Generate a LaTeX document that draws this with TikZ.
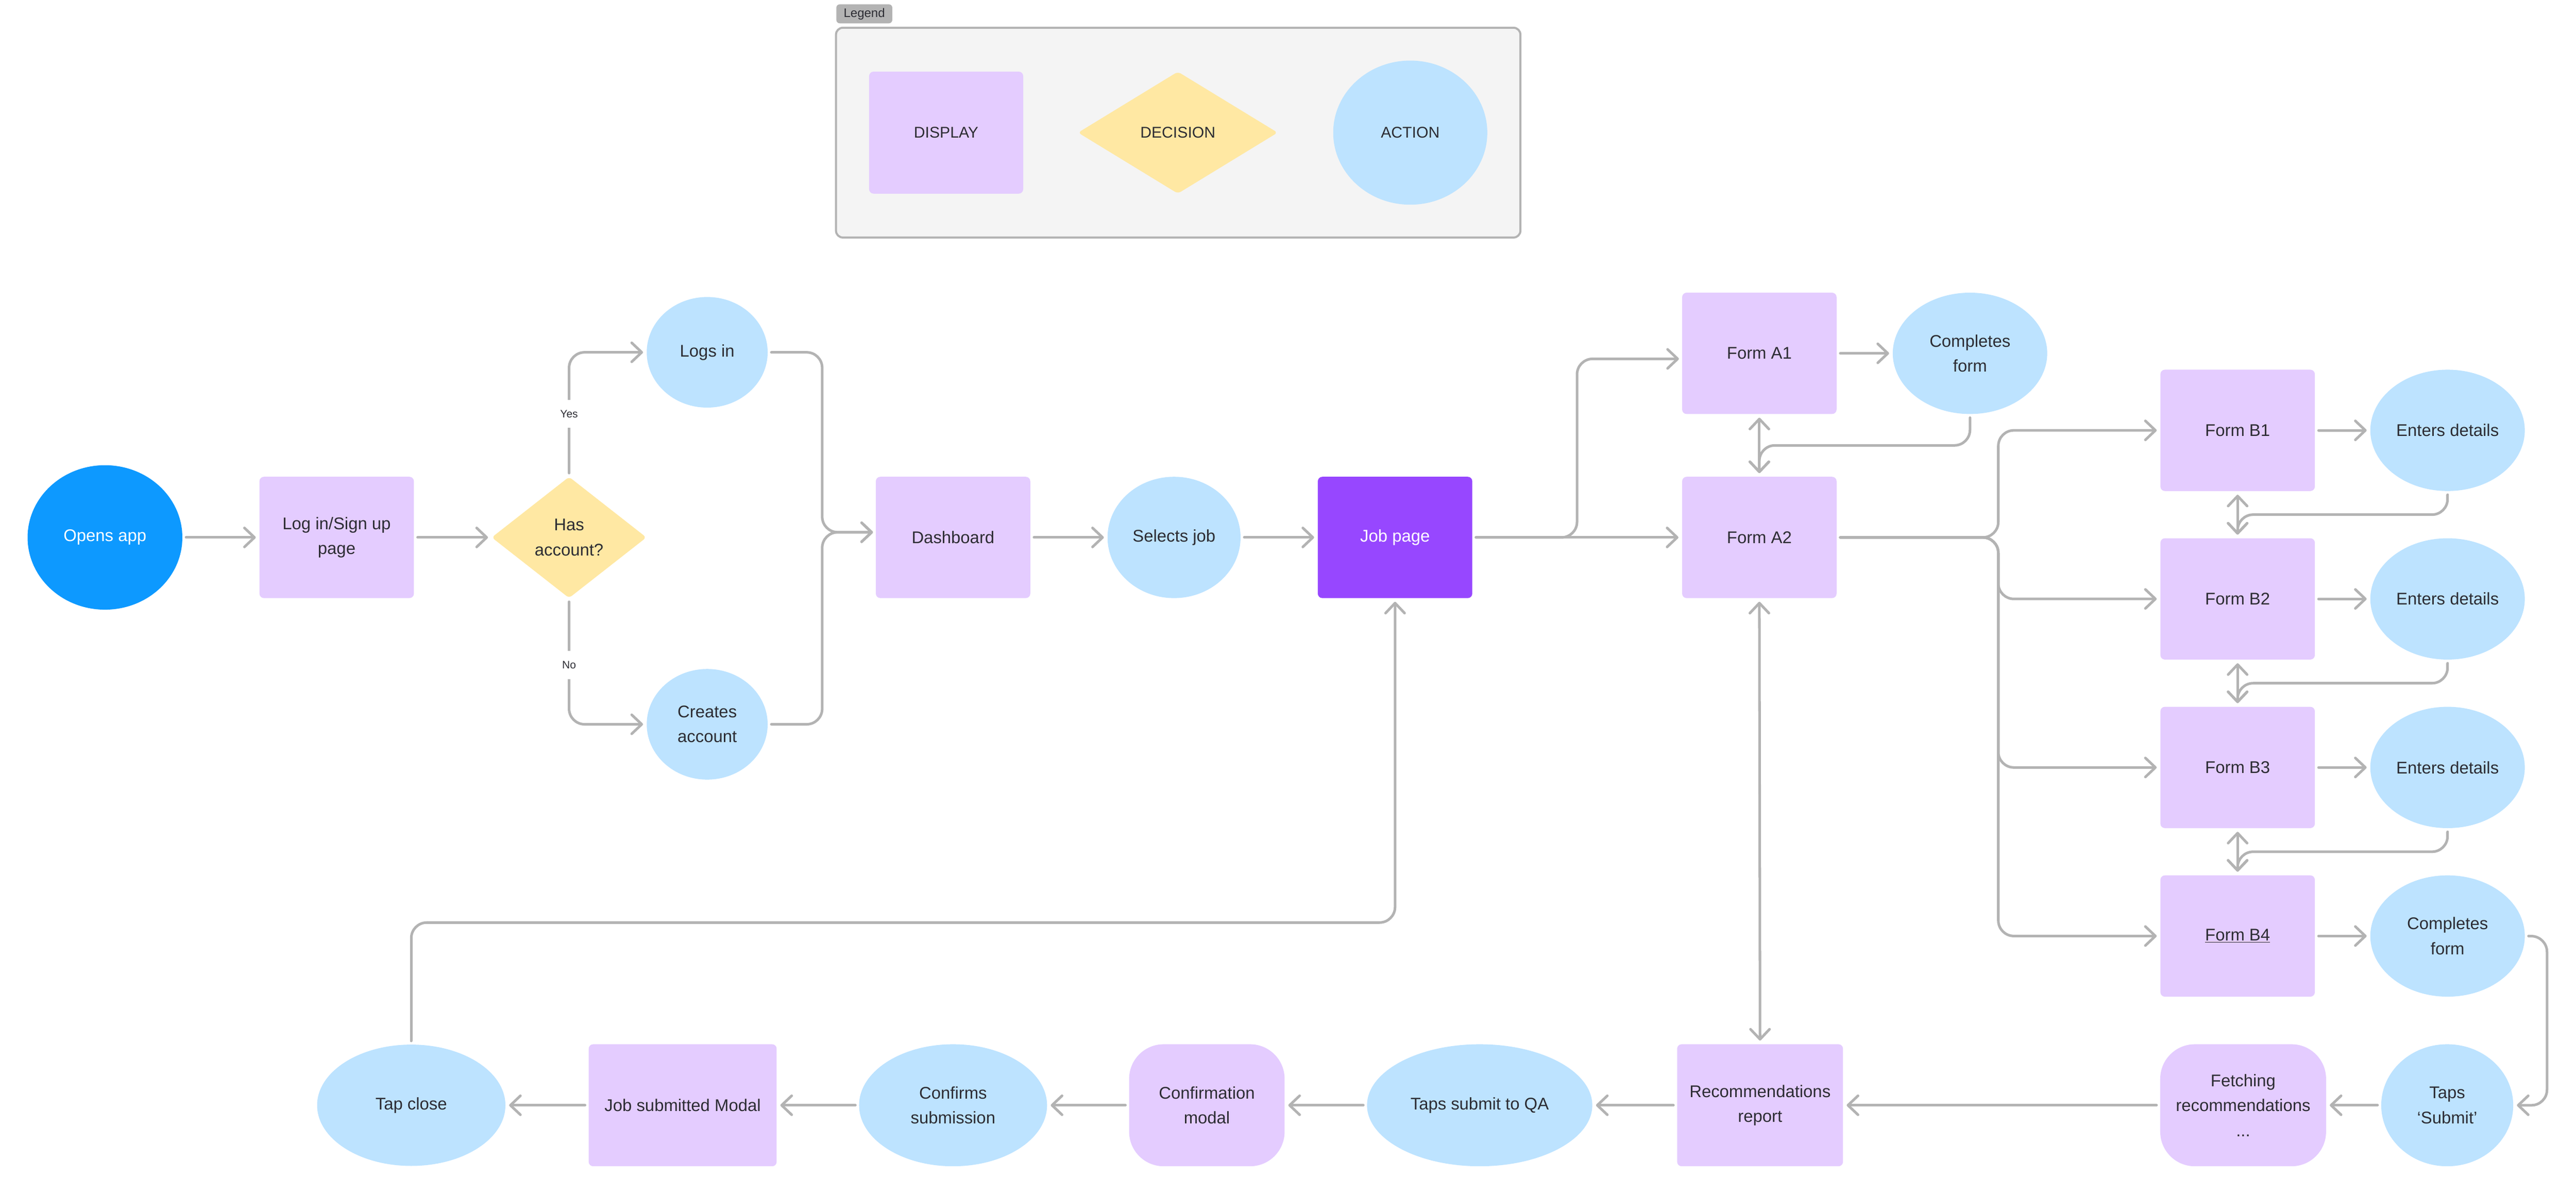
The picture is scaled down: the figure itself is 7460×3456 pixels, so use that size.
\documentclass[tikz,border=0pt]{standalone}
\usepackage{fontspec}
\setmainfont{Liberation Sans}
\usetikzlibrary{arrows.meta,shapes.geometric,calc}

\definecolor{dispc}{HTML}{E4CCFF}
\definecolor{actc}{HTML}{BDE3FF}
\definecolor{decc}{HTML}{FFE8A3}
\definecolor{jobc}{HTML}{9747FF}
\definecolor{openc}{HTML}{0D99FF}
\definecolor{linec}{HTML}{B3B3B3}
\definecolor{txtc}{HTML}{2C2C33}
\definecolor{legbg}{HTML}{F4F4F4}

\newcommand\myfmain{\fontsize{13.94pt}{20.5pt}\selectfont}
\newcommand\myfleg{\fontsize{12.8pt}{18pt}\selectfont}
\newcommand\myftag{\fontsize{10.2pt}{12pt}\selectfont}
\newcommand\myflbl{\fontsize{8.9pt}{10pt}\selectfont}

\tikzset{
  mytip/.tip={Straight Barb[length=0.29cm,width=0.55cm,round]},
  base/.style={inner sep=0pt, align=center, text=txtc, font=\myfmain},
  disp/.style={base, rectangle, fill=dispc, rounded corners=0.13cm,
    minimum width=4.47cm, minimum height=3.51cm},
  modal/.style={base, rectangle, fill=dispc, rounded corners=1cm,
    minimum height=3.53cm},
  act/.style={base, ellipse, fill=actc},
  dec/.style={base, diamond, fill=decc, rounded corners=0.1cm},
  conn/.style={draw=linec, line width=0.075cm, line cap=round, line join=round,
    rounded corners=0.45cm, -mytip, shorten <=0.1cm, shorten >=0.1cm},
  conn2/.style={conn, mytip-mytip},
  lbl/.style={fill=white, text=txtc, font=\myflbl, inner xsep=0.08cm, inner ysep=0.3cm},
}

\begin{document}
\begin{tikzpicture}[x=0.01cm, y=-0.01cm]
\fill[white] (0,0) rectangle (7460,3456);
\useasboundingbox (0,0) rectangle (7460,3456);

% ---------- Legend ----------
\node[fill=linec, rounded corners=0.1cm, minimum width=1.62cm, minimum height=0.55cm,
      inner sep=0pt, text=txtc, font=\myftag] (legtag) at (2503,40) {Legend};
\node[fill=legbg, draw=linec, line width=0.06cm, rounded corners=0.2cm,
      minimum width=19.81cm, minimum height=6.07cm, inner sep=0pt] (legbox) at (3412,384) {};
\node[disp, font=\myfleg, minimum width=4.46cm, minimum height=3.53cm] (legdisp) at (2740,384) {DISPLAY};
\node[dec, font=\myfleg, minimum width=5.78cm, minimum height=3.53cm, shape aspect=1.64] (legdec) at (3411,384) {DECISION};
\node[act, font=\myfleg, minimum width=4.46cm, minimum height=4.17cm] (legact) at (4084,384) {ACTION};

% ---------- Top flow ----------
\node[base, ellipse, fill=openc, text=white, minimum width=4.48cm, minimum height=4.18cm] (opens) at (304,1556) {Opens app};
\node[disp] (login) at (975,1556) {Log in/Sign up\\page};
\node[dec, minimum width=4.48cm, minimum height=3.51cm, shape aspect=1.28] (hasacc) at (1648,1556) {Has\\account?};
\node[act, minimum width=3.50cm, minimum height=3.20cm] (logsin) at (2048,1020) {Logs in};
\node[act, minimum width=3.50cm, minimum height=3.20cm] (creates) at (2048,2097) {Creates\\account};
\node[disp] (dash) at (2760,1556) {Dashboard};
\node[act, minimum width=3.85cm, minimum height=3.51cm] (selects) at (3400,1556) {Selects job};
\node[disp, fill=jobc, text=white] (jobpage) at (4040,1556) {Job page};

\node[disp] (formA1) at (5095,1023) {Form A1};
\node[act, minimum width=4.47cm, minimum height=3.51cm] (complA1) at (5705,1023) {Completes\\form};
\node[disp] (formA2) at (5095,1556) {Form A2};

\node[disp] (formB1) at (6480,1246) {Form B1};
\node[disp] (formB2) at (6480,1734) {Form B2};
\node[disp] (formB3) at (6480,2222) {Form B3};
\node[disp] (formB4) at (6480,2710) {\underline{Form B4}};
\node[act, minimum width=4.47cm, minimum height=3.51cm] (ent1) at (7088,1246) {Enters details};
\node[act, minimum width=4.47cm, minimum height=3.51cm] (ent2) at (7088,1734) {Enters details};
\node[act, minimum width=4.47cm, minimum height=3.51cm] (ent3) at (7088,2222) {Enters details};
\node[act, minimum width=4.47cm, minimum height=3.51cm] (complB4) at (7088,2710) {Completes\\form};

% ---------- Bottom row ----------
\node[act, minimum width=3.82cm, minimum height=3.53cm] (tapsSub) at (7087,3200) {Taps\\‘Submit’};
\node[modal, minimum width=4.80cm] (fetch) at (6496,3200) {Fetching\\recommendations\\...};
\node[disp, minimum width=4.80cm, minimum height=3.53cm] (recRep) at (5097,3200) {Recommendations\\report};
\node[act, minimum width=6.52cm, minimum height=3.53cm] (tapsQA) at (4285,3200) {Taps submit to QA};
\node[modal, minimum width=4.50cm] (confModal) at (3495,3200) {Confirmation\\modal};
\node[act, minimum width=5.44cm, minimum height=3.53cm] (confirms) at (2760,3200) {Confirms\\submission};
\node[disp, minimum width=5.44cm, minimum height=3.53cm] (jobSub) at (1977,3200) {Job submitted Modal};
\node[act, minimum width=5.45cm, minimum height=3.51cm] (tapClose) at (1191,3200) {Tap close};

% ---------- helper coordinates ----------
\coordinate (mx) at (2381,1541);
\coordinate (dashin) at (2538,1541);
\coordinate (jx) at (4567,1556);
\coordinate (a1in) at (4872,1039);
\coordinate (bx) at (5787,1556);
\coordinate (cx) at (7376,2711);
\coordinate (ret) at (4040,2671);
\coordinate (mA) at ($(formA1.south)!0.5!(formA2.north)$);
\coordinate (mB1) at ($(formB1.south)!0.5!(formB2.north)$);
\coordinate (mB2) at ($(formB2.south)!0.5!(formB3.north)$);
\coordinate (mB3) at ($(formB3.south)!0.5!(formB4.north)$);

% ---------- connectors ----------
\draw[conn] (opens) -- (login);
\draw[conn] (login) -- (hasacc);
\draw[conn] (hasacc.north) |- (logsin.west);
\draw[conn] (hasacc.south) |- (creates.west);
\node[lbl] (yes) at (1648,1198) {Yes};
\node[lbl] (no) at (1648,1925) {No};
\draw[conn] (logsin.east) -| (mx) -- (dashin);
\draw[conn] (creates.east) -| (mx) -- (dashin);
\draw[conn] (dash) -- (selects);
\draw[conn] (selects) -- (jobpage);
\draw[conn] (jobpage.east) -- (jx) |- (a1in);
\draw[conn] (jobpage) -- (formA2);
\draw[conn] (formA1) -- (complA1);
\draw[conn2] (formA1.south) -- (formA2.north);
\draw[conn] (complA1.south) |- (mA) -- (formA2.north);

\draw[conn] (formA2.east) -- (bx) |- (formB1.west);
\draw[conn] (formA2.east) -- (bx) |- (formB2.west);
\draw[conn] (formA2.east) -- (bx) |- (formB3.west);
\draw[conn] (formA2.east) -- (bx) |- (formB4.west);

\draw[conn] (formB1) -- (ent1);
\draw[conn] (formB2) -- (ent2);
\draw[conn] (formB3) -- (ent3);
\draw[conn] (formB4) -- (complB4);
\draw[conn2] (formB1.south) -- (formB2.north);
\draw[conn2] (formB2.south) -- (formB3.north);
\draw[conn2] (formB3.south) -- (formB4.north);
\draw[conn] (ent1.south) |- (mB1) -- (formB2.north);
\draw[conn] (ent2.south) |- (mB2) -- (formB3.north);
\draw[conn] (ent3.south) |- (mB3) -- (formB4.north);

\draw[conn] (complB4.east) -- (cx) |- (tapsSub.east);
\draw[conn] (tapsSub) -- (fetch);
\draw[conn] (fetch) -- (recRep);
\draw[conn2] (formA2.south) -- (recRep.north);
\draw[conn] (recRep) -- (tapsQA);
\draw[conn] (tapsQA) -- (confModal);
\draw[conn] (confModal) -- (confirms);
\draw[conn] (confirms) -- (jobSub);
\draw[conn] (jobSub) -- (tapClose);
\draw[conn] (tapClose.north) |- (ret) -- (jobpage.south);
\end{tikzpicture}
\end{document}
